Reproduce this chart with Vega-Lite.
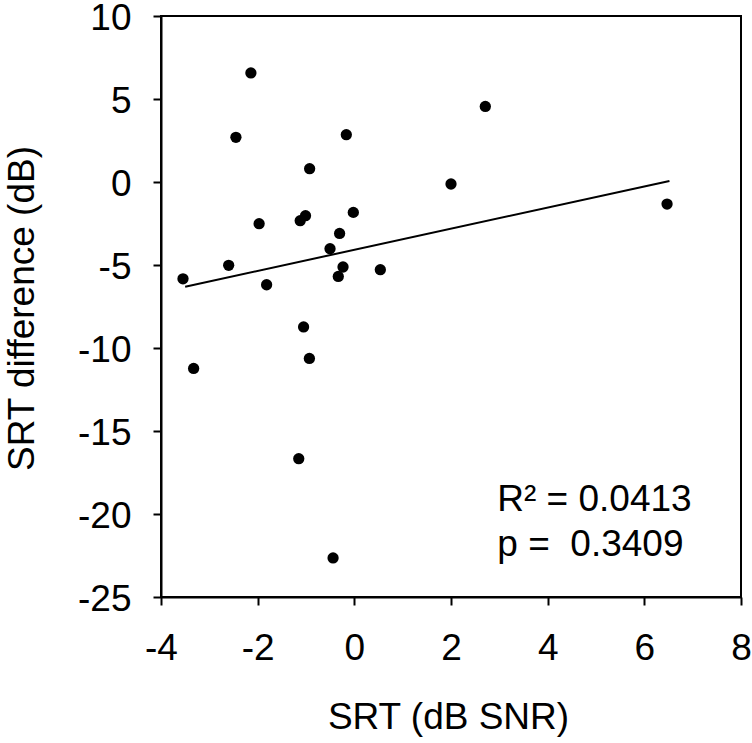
{
  "$schema": "https://vega.github.io/schema/vega-lite/v6.json",
  "width": 580,
  "height": 581,
  "autosize": {"type": "none"},
  "padding": {"left": 161, "top": 16, "right": 11, "bottom": 146},
  "background": "white",
  "config": {
    "font": "Liberation Sans",
    "view": {"stroke": "black", "strokeWidth": 2},
    "axis": {
      "domainColor": "black", "domainWidth": 2,
      "tickColor": "black", "tickWidth": 2, "tickSize": 8,
      "grid": false,
      "labelColor": "black", "labelFont": "Liberation Sans", "labelFontSize": 37,
      "titleFont": "Liberation Sans", "titleFontSize": 37, "titleFontWeight": "normal", "titleColor": "black",
      "labelFlush": false, "labelOverlap": false
    },
    "axisX": {"labelPadding": 25, "titleX": 287, "titleY": 131, "titleBaseline": "alphabetic"},
    "axisY": {"labelPadding": 22, "labelOffset": 2, "titleX": -128, "titleY": 292, "titleBaseline": "alphabetic", "titleAlign": "center", "titleAngle": -90}
  },
  "datasets": {
    "points": [
      {"srt": -2.14, "diff": 6.57},
      {"srt": -2.45, "diff": 2.69},
      {"srt": -0.925, "diff": 0.80},
      {"srt": -0.166, "diff": 2.85},
      {"srt": -1.97, "diff": -2.51},
      {"srt": -1.12, "diff": -2.33},
      {"srt": -1.01, "diff": -2.03},
      {"srt": -0.305, "diff": -3.10},
      {"srt": -0.021, "diff": -1.83},
      {"srt": -0.503, "diff": -4.02},
      {"srt": -2.60, "diff": -5.02},
      {"srt": -3.545, "diff": -5.83},
      {"srt": -1.815, "diff": -6.19},
      {"srt": -0.234, "diff": -5.12},
      {"srt": -0.332, "diff": -5.69},
      {"srt": 0.538, "diff": -5.28},
      {"srt": -1.05, "diff": -8.73},
      {"srt": -0.93, "diff": -10.63},
      {"srt": -3.325, "diff": -11.23},
      {"srt": -1.15, "diff": -16.67},
      {"srt": -0.44, "diff": -22.65},
      {"srt": 2.71, "diff": 4.55},
      {"srt": 2.0, "diff": -0.12},
      {"srt": 6.47, "diff": -1.33}
    ],
    "fit": [
      {"srt": -3.5, "diff": -6.31},
      {"srt": 6.52, "diff": 0.06}
    ]
  },
  "layer": [
    {
      "data": {"name": "fit"},
      "mark": {"type": "line", "color": "black", "strokeWidth": 2},
      "encoding": {
        "x": {"field": "srt", "type": "quantitative", "scale": {"domain": [-4, 8], "nice": false, "zero": false},
              "axis": {"title": "SRT (dB SNR)", "values": [-4, -2, 0, 2, 4, 6, 8], "labelExpr": "'' + datum.value"}},
        "y": {"field": "diff", "type": "quantitative", "scale": {"domain": [-25, 10], "nice": false, "zero": false},
              "axis": {"title": "SRT difference (dB)", "values": [-25, -20, -15, -10, -5, 0, 5, 10], "labelExpr": "'' + datum.value"}}
      }
    },
    {
      "data": {"name": "points"},
      "mark": {"type": "circle", "color": "black", "opacity": 1, "size": 127},
      "encoding": {
        "x": {"field": "srt", "type": "quantitative", "scale": {"domain": [-4, 8], "nice": false, "zero": false},
              "axis": {"title": "SRT (dB SNR)", "values": [-4, -2, 0, 2, 4, 6, 8], "labelExpr": "'' + datum.value"}},
        "y": {"field": "diff", "type": "quantitative", "scale": {"domain": [-25, 10], "nice": false, "zero": false},
              "axis": {"title": "SRT difference (dB)", "values": [-25, -20, -15, -10, -5, 0, 5, 10], "labelExpr": "'' + datum.value"}}
      }
    },
    {
      "data": {"values": [{"lines": "R² = 0.0413|p = \u00a00.3409"}]},
      "mark": {"type": "text", "color": "black", "fontSize": 37, "align": "left", "baseline": "alphabetic", "lineHeight": 45, "lineBreak": "|"},
      "encoding": {
        "x": {"datum": 2.958, "type": "quantitative", "scale": {"domain": [-4, 8], "nice": false, "zero": false},
              "axis": {"title": "SRT (dB SNR)", "values": [-4, -2, 0, 2, 4, 6, 8], "labelExpr": "'' + datum.value"}},
        "y": {"datum": -19.84, "type": "quantitative", "scale": {"domain": [-25, 10], "nice": false, "zero": false},
              "axis": {"title": "SRT difference (dB)", "values": [-25, -20, -15, -10, -5, 0, 5, 10], "labelExpr": "'' + datum.value"}},
        "text": {"field": "lines"}
      }
    }
  ]
}
